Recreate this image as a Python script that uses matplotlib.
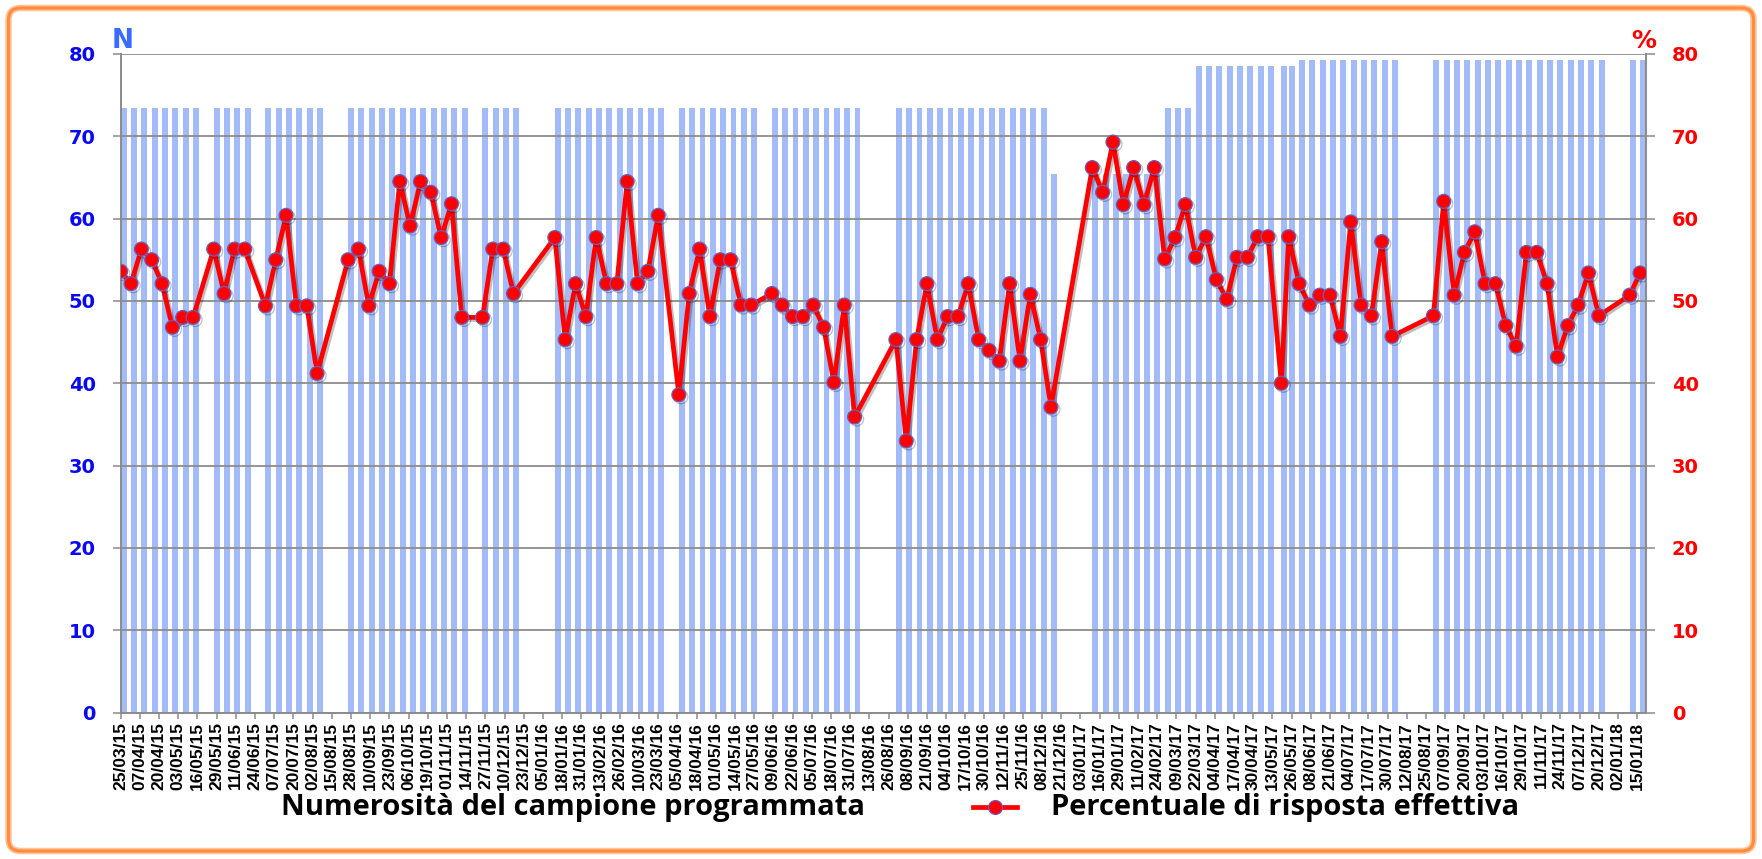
import datetime as dt

import matplotlib
matplotlib.use("Agg")
import matplotlib.pyplot as plt
import matplotlib.patheffects as pe
from matplotlib.lines import Line2D
from matplotlib.patches import FancyBboxPatch
from matplotlib.transforms import IdentityTransform

# survey dates (weekly waves, with breaks)
survey_dates = [
    "25/03/15", "01/04/15", "08/04/15", "15/04/15", "22/04/15", "29/04/15", "06/05/15", "13/05/15",
    "27/05/15", "03/06/15", "10/06/15", "17/06/15",
    "01/07/15", "08/07/15", "15/07/15", "22/07/15", "29/07/15", "05/08/15",
    "26/08/15", "02/09/15", "09/09/15", "16/09/15", "23/09/15", "30/09/15",
    "07/10/15", "14/10/15", "21/10/15", "28/10/15", "04/11/15", "11/11/15",
    "25/11/15", "02/12/15", "09/12/15", "16/12/15",
    "13/01/16", "20/01/16", "27/01/16", "03/02/16", "10/02/16", "17/02/16",
    "24/02/16", "02/03/16", "09/03/16", "16/03/16", "23/03/16",
    "06/04/16", "13/04/16", "20/04/16", "27/04/16", "04/05/16", "11/05/16", "18/05/16", "25/05/16",
    "08/06/16", "15/06/16", "22/06/16", "29/06/16", "06/07/16", "13/07/16", "20/07/16", "27/07/16",
    "03/08/16",
    "31/08/16", "07/09/16", "14/09/16", "21/09/16", "28/09/16", "05/10/16", "12/10/16", "19/10/16",
    "26/10/16", "02/11/16", "09/11/16", "16/11/16", "23/11/16", "30/11/16", "07/12/16", "14/12/16",
    "11/01/17", "18/01/17", "25/01/17", "01/02/17", "08/02/17", "15/02/17", "22/02/17", "01/03/17",
    "08/03/17", "15/03/17", "22/03/17", "29/03/17", "05/04/17", "12/04/17", "19/04/17", "26/04/17",
    "03/05/17", "10/05/17", "19/05/17", "24/05/17", "31/05/17", "07/06/17", "14/06/17", "21/06/17",
    "28/06/17", "05/07/17", "12/07/17", "19/07/17", "26/07/17", "02/08/17",
    "30/08/17", "06/09/17", "13/09/17", "20/09/17", "27/09/17", "04/10/17", "11/10/17", "18/10/17",
    "25/10/17", "01/11/17", "08/11/17", "15/11/17", "22/11/17", "29/11/17", "06/12/17", "13/12/17",
    "20/12/17",
    "10/01/18", "17/01/18",
]

# planned sample size (left axis, N)
sample_size = [
    73.5, 73.5, 73.5, 73.5, 73.5, 73.5, 73.5, 73.5,
    73.5, 73.5, 73.5, 73.5,
    73.5, 73.5, 73.5, 73.5, 73.5, 73.5,
    73.5, 73.5, 73.5, 73.5, 73.5, 73.5,
    73.5, 73.5, 73.5, 73.5, 73.5, 73.5,
    73.5, 73.5, 73.5, 73.5,
    73.5, 73.5, 73.5, 73.5, 73.5, 73.5,
    73.5, 73.5, 73.5, 73.5, 73.5,
    73.5, 73.5, 73.5, 73.5, 73.5, 73.5, 73.5, 73.5,
    73.5, 73.5, 73.5, 73.5, 73.5, 73.5, 73.5, 73.5,
    73.5,
    73.5, 73.5, 73.5, 73.5, 73.5, 73.5, 73.5, 73.5,
    73.5, 73.5, 73.5, 73.5, 73.5, 73.5, 73.5, 65.4,
    65.4, 65.4, 65.4, 65.4, 65.4, 65.4, 65.4, 73.5,
    73.5, 73.5, 78.5, 78.5, 78.5, 78.5, 78.5, 78.5,
    78.5, 78.5, 78.5, 78.5, 79.3, 79.3, 79.3, 79.3,
    79.3, 79.3, 79.3, 79.3, 79.3, 79.3,
    79.3, 79.3, 79.3, 79.3, 79.3, 79.3, 79.3, 79.3,
    79.3, 79.3, 79.3, 79.3, 79.3, 79.3, 79.3, 79.3,
    79.3,
    79.3, 79.3,
]

# effective response rate (right axis, %)
response_rate = [
    53.6, 52.1, 56.3, 55.0, 52.1, 46.8, 48.0, 48.0,
    56.3, 50.9, 56.3, 56.3,
    49.4, 55.0, 60.4, 49.4, 49.4, 41.2,
    55.0, 56.3, 49.4, 53.6, 52.1, 64.5,
    59.1, 64.5, 63.2, 57.7, 61.8, 48.0,
    48.0, 56.3, 56.3, 50.9,
    57.7, 45.3, 52.1, 48.1, 57.7, 52.1,
    52.1, 64.5, 52.1, 53.6, 60.4,
    38.6, 50.9, 56.3, 48.1, 55.0, 55.0, 49.5, 49.5,
    50.9, 49.5, 48.1, 48.1, 49.5, 46.8, 40.1, 49.5,
    35.9,
    45.3, 33.0, 45.3, 52.1, 45.3, 48.1, 48.1, 52.1,
    45.3, 44.0, 42.7, 52.1, 42.7, 50.8, 45.3, 37.1,
    66.2, 63.2, 69.3, 61.7, 66.2, 61.7, 66.2, 55.1,
    57.7, 61.7, 55.3, 57.8, 52.6, 50.2, 55.3, 55.3,
    57.8, 57.8, 40.0, 57.8, 52.1, 49.5, 50.7, 50.7,
    45.7, 59.6, 49.5, 48.2, 57.2, 45.7,
    48.2, 62.1, 50.7, 55.9, 58.4, 52.1, 52.1, 47.0,
    44.5, 55.9, 55.9, 52.1, 43.2, 47.0, 49.5, 53.4,
    48.2,
    50.7, 53.4,
]

tick_first = "25/03/15"
tick_last = "15/01/18"
tick_step_days = 13
axis_last = "21/01/18"
y_ticks = [0, 10, 20, 30, 40, 50, 60, 70, 80]

label_bars = "Numerosità del campione programmata"
label_line = "Percentuale di risposta effettiva"

W, H = 1762, 859
BAR_COLOR = "#A4BBFA"
LINE_RED = "#FF0000"
N_BLUE = "#0A0AF0"
GRID = "#8C8C8C"
NARROW = ["Liberation Sans Narrow", "Liberation Sans", "DejaVu Sans"]


def _d(s):
    return dt.datetime.strptime(s, "%d/%m/%y")


def fx(px):
    return px / W


def fy(py):
    return 1 - py / H


dates = [_d(s) for s in survey_dates]
t0, t1 = _d(tick_first), _d(tick_last)
tick_dates = []
t = t0
while t <= t1:
    tick_dates.append(t)
    t += dt.timedelta(days=tick_step_days)

fig = plt.figure(figsize=(W / 100, H / 100), dpi=100)
fig.set_facecolor("white")
ax = fig.add_axes([fx(120.7), 1 - 712.5 / H, (1646 - 120.7) / W, (712.5 - 54) / H])
ax2 = ax.twinx()

ax.bar(dates, sample_size, width=4.0, align="edge", color=BAR_COLOR, linewidth=0, zorder=1)
ax.set_axisbelow(False)
ax.yaxis.grid(True, color=GRID, linewidth=1.3, zorder=2)

ax2.plot(
    dates, response_rate, color=LINE_RED, linewidth=3.4, marker="o", markersize=10,
    markerfacecolor=LINE_RED, markeredgecolor="#6E5DB8", markeredgewidth=0.9,
    path_effects=[pe.SimpleLineShadow(offset=(1.5, -1.5), alpha=0.25), pe.Normal()],
    zorder=3,
)

ax.set_xlim(t0, _d(axis_last))
ax.set_ylim(0, 80)
ax2.set_ylim(0, 80)
ax.set_yticks(y_ticks)
ax2.set_yticks(y_ticks)
ax.set_yticklabels([str(v) for v in y_ticks], color=N_BLUE, fontsize=14, fontweight="bold")
ax2.set_yticklabels([str(v) for v in y_ticks], color=LINE_RED, fontsize=14, fontweight="bold")
ax.set_xticks(tick_dates)
ax.set_xticklabels([d.strftime("%d/%m/%y") for d in tick_dates], rotation=90,
                   family=NARROW, fontweight="bold", fontsize=12.5, color="black")
ax.tick_params(axis="x", direction="out", length=4, width=1.1, color=GRID, pad=3)
ax.tick_params(axis="y", direction="out", length=6, width=1.1, color=GRID, pad=12)
ax2.tick_params(axis="y", direction="out", length=6.5, width=1.1, color=GRID, pad=12)

for a in (ax, ax2):
    a.spines["top"].set_visible(False)
    for side in ("left", "right", "bottom"):
        a.spines[side].set_color(GRID)
        a.spines[side].set_linewidth(1.3)

fig.text(fx(112), fy(48), "N", color="#3A6BFF", fontsize=19, fontweight="bold",
         ha="left", va="baseline")
fig.text(fx(1656), fy(48), "%", color=LINE_RED, fontsize=18, fontweight="bold",
         ha="right", va="baseline")

# legend
fig.text(fx(281), fy(808), label_bars, family="Open Sans", fontweight="bold",
         fontsize=21, ha="left", va="center")
fig.add_artist(Line2D([fx(973), fx(1017)], [fy(807), fy(807)], color=LINE_RED,
                      linewidth=3.4, transform=fig.transFigure))
fig.add_artist(Line2D([fx(995)], [fy(807)], marker="o", markersize=10, color=LINE_RED,
                      markeredgecolor="#6E5DB8", markeredgewidth=0.9, transform=fig.transFigure))
fig.text(fx(1051), fy(808), label_line, family="Open Sans", fontweight="bold",
         fontsize=21, ha="left", va="center")

# orange frame
for lw, col in ((6.5, "#FFC49A"), (3.2, "#FF8C3F")):
    fig.add_artist(FancyBboxPatch(
        (8.5, 8), W - 17, H - 16, boxstyle="round,pad=0,rounding_size=12",
        fill=False, edgecolor=col, linewidth=lw * 0.72, transform=IdentityTransform(),
    ))

fig.savefig("out.png", dpi=100, facecolor="white")
